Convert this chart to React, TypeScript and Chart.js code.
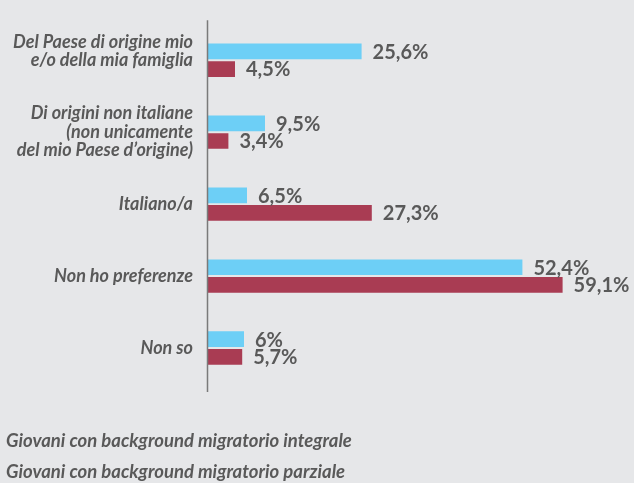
import React, { useEffect, useRef } from "react";
import { Chart, registerables } from "chart.js";

Chart.register(...registerables);

const categories: (string | string[])[] = [
  ["Del Paese di origine mio", "e/o della mia famiglia", ""],
  ["Di origini non italiane", "(non unicamente", "del mio Paese d’origine)"],
  "Italiano/a",
  "Non ho preferenze",
  "Non so",
];
const integrale = [25.6, 9.5, 6.5, 52.4, 6];
const parziale = [4.5, 3.4, 27.3, 59.1, 5.7];
const seriesLabels = [
  "Giovani con background migratorio integrale",
  "Giovani con background migratorio parziale",
];
const BLUE = "#6dcff6";
const RED = "#a93c53";
const TEXT = "#595959";
const BG = "#e6e7e9";
const FONT = "Lato, 'Open Sans', sans-serif";

const fmt = (v: number) => String(v).replace(".", ",") + "%";

export default function App() {
  const ref = useRef<HTMLCanvasElement | null>(null);
  useEffect(() => {
    if (!ref.current) return;
    const bgPlugin = {
      id: "bg",
      beforeDraw(chart: any) {
        const { ctx, width, height } = chart;
        ctx.save();
        ctx.fillStyle = BG;
        ctx.fillRect(0, 0, width, height);
        ctx.restore();
      },
    };
    const extras = {
      id: "extras",
      afterDatasetsDraw(chart: any) {
        const { ctx, chartArea } = chart;
        ctx.save();
        // axis line
        ctx.strokeStyle = "#7a7a7a";
        ctx.lineWidth = 1.5;
        ctx.beginPath();
        ctx.moveTo(chartArea.left - 0.5, chartArea.top - 4);
        ctx.lineTo(chartArea.left - 0.5, chartArea.bottom + 8);
        ctx.stroke();
        // value labels
        ctx.font = `bold 20px ${FONT}`;
        ctx.fillStyle = TEXT;
        ctx.textAlign = "left";
        ctx.textBaseline = "middle";
        chart.data.datasets.forEach((ds: any, di: number) => {
          const meta = chart.getDatasetMeta(di);
          meta.data.forEach((bar: any, i: number) => {
            ctx.fillText(fmt(ds.data[i]), bar.x + 11, bar.y + 1);
          });
        });
        // legend
        ctx.font = `italic bold 18.5px ${FONT}`;
        ctx.textBaseline = "middle";
        seriesLabels.forEach((t, i) => {
          ctx.fillText(t, 6, chart.height - 42 + i * 31);
        });
        ctx.restore();
      },
    };
    const chart = new Chart(ref.current, {
      type: "bar",
      data: {
        labels: categories,
        datasets: [
          {
            label: seriesLabels[0],
            data: integrale,
            backgroundColor: BLUE,
            categoryPercentage: 0.49,
            barPercentage: 0.89,
          },
          {
            label: seriesLabels[1],
            data: parziale,
            backgroundColor: RED,
            categoryPercentage: 0.49,
            barPercentage: 0.89,
          },
        ],
      },
      options: {
        indexAxis: "y",
        animation: false,
        responsive: false,
        layout: { padding: { left: 0, right: 6, top: 16, bottom: 99 } },
        plugins: {
          legend: { display: false },
          tooltip: { enabled: false },
          title: { display: false },
        },
        scales: {
          x: { display: false, min: 0, max: 70 },
          y: {
            grid: { display: false, drawTicks: false },
            border: { display: false },
            ticks: {
              padding: 15,
              color: TEXT,
              font: { family: FONT, size: 18, style: "italic", weight: "bold", lineHeight: "18.5px" },
            },
            afterFit(scale: any) {
              scale.width = 208;
            },
          },
        },
      },
      plugins: [bgPlugin, extras],
    });
    return () => chart.destroy();
  }, []);
  return (
    <div style={{ position: "absolute", left: 0, top: 0, width: 634, height: 483, background: BG }}>
      <canvas ref={ref} width={634} height={483} style={{ display: "block" }} />
    </div>
  );
}
